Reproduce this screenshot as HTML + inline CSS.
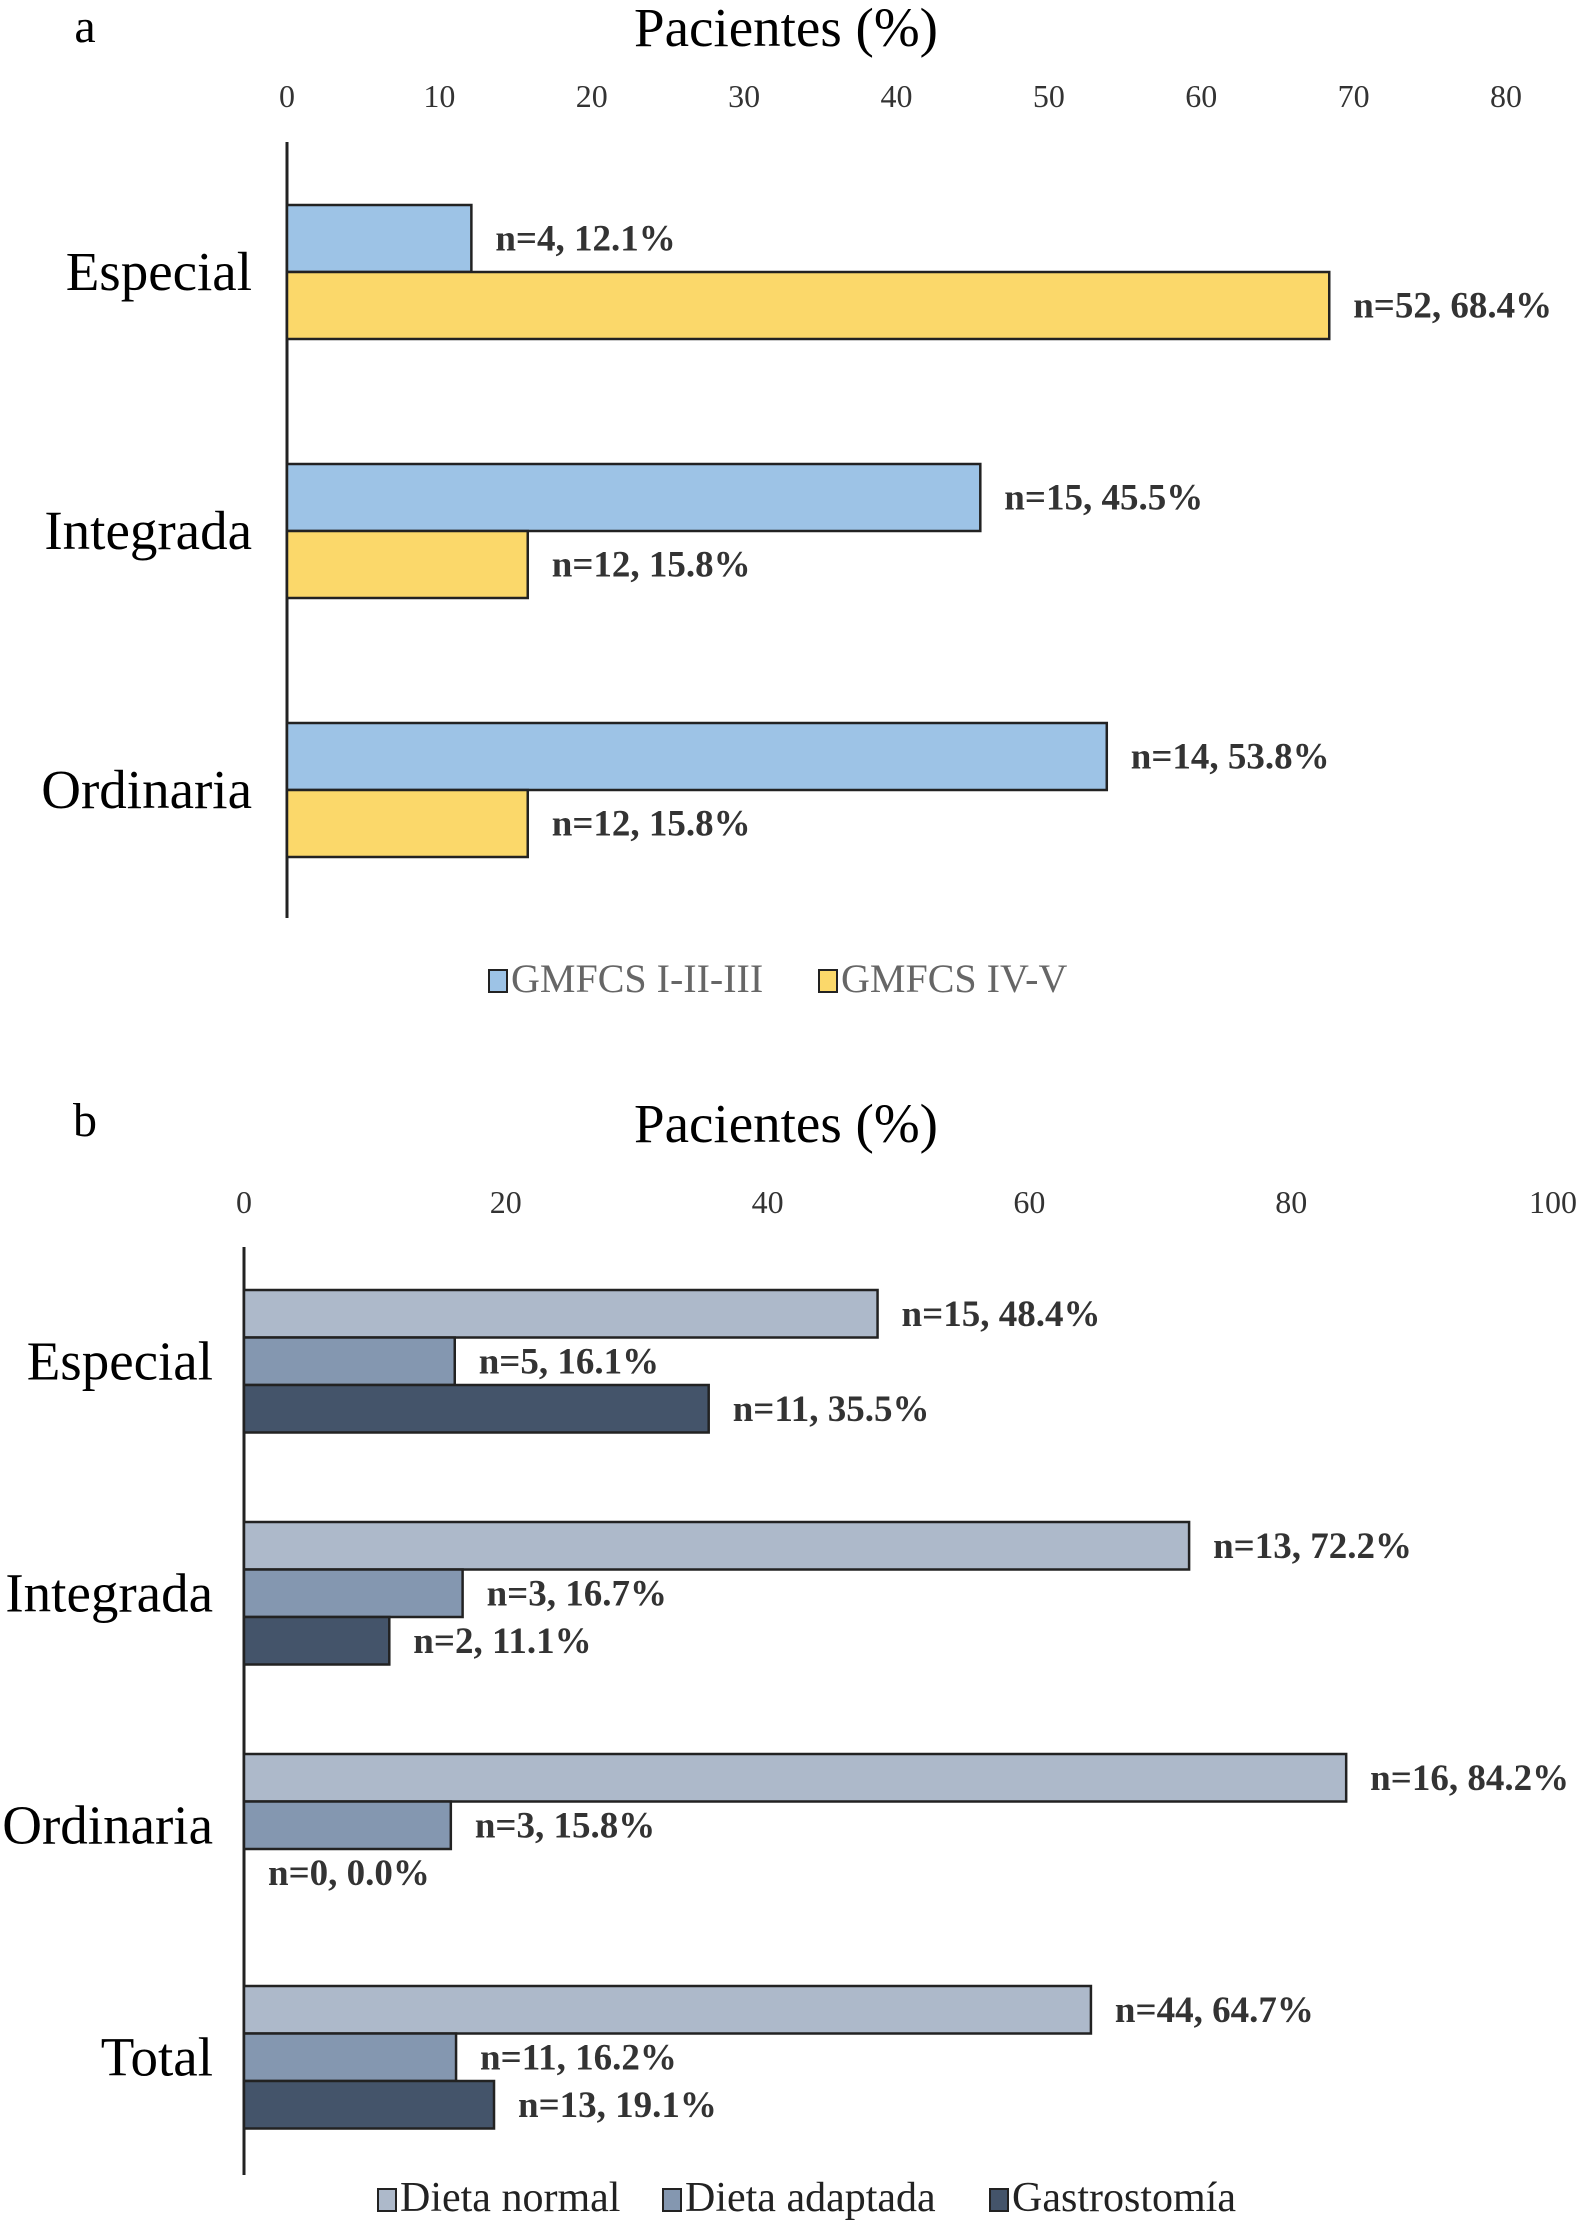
<!DOCTYPE html>
<html><head><meta charset="utf-8"><style>
html,body{margin:0;padding:0;background:#fff;}
svg{display:block;}
text{font-family:"Liberation Serif",serif;}
</style></head><body>
<svg id="chart" width="1587" height="2223" viewBox="0 0 1587 2223" xmlns="http://www.w3.org/2000/svg">
<text x="85" y="42" font-size="48" text-anchor="middle">a</text>
<text x="786" y="46" font-size="55" text-anchor="middle">Pacientes (%)</text>
<text x="85" y="1136" font-size="48" text-anchor="middle">b</text>
<text x="786" y="1142" font-size="55" text-anchor="middle">Pacientes (%)</text>
<g id="ga"></g>
<g id="gb"></g>
</svg>
<script>
// Panel a data
const aCategories = ["Especial", "Integrada", "Ordinaria"];
const aSeriesNames = ["GMFCS I-II-III", "GMFCS IV-V"];
const aGmfcs123 = [12.1, 45.5, 53.8];
const aGmfcs45 = [68.4, 15.8, 15.8];
const aN123 = [4, 15, 14];
const aN45 = [52, 12, 12];
const aTicks = [0, 10, 20, 30, 40, 50, 60, 70, 80];
// Panel b data
const bCategories = ["Especial", "Integrada", "Ordinaria", "Total"];
const bSeriesNames = ["Dieta normal", "Dieta adaptada", "Gastrostomía"];
const bNormal = [48.4, 72.2, 84.2, 64.7];
const bAdaptada = [16.1, 16.7, 15.8, 16.2];
const bGastro = [35.5, 11.1, 0.0, 19.1];
const bNNormal = [15, 13, 16, 44];
const bNAdaptada = [5, 3, 3, 11];
const bNGastro = [11, 2, 0, 13];
const bTicks = [0, 20, 40, 60, 80, 100];

const NS = "http://www.w3.org/2000/svg";
function mk(parent, tag, attrs, txt) {
  const e = document.createElementNS(NS, tag);
  for (const k in attrs) e.setAttribute(k, attrs[k]);
  if (txt !== undefined) e.textContent = txt;
  parent.appendChild(e);
  return e;
}
function fmt(v){return v.toFixed(1);}

function drawPanel(g, cfg) {
  const x = v => cfg.x0 + (v - cfg.min) / (cfg.max - cfg.min) * (cfg.x1 - cfg.x0);
  cfg.ticks.forEach(t => {
    const e = mk(g, "text", {x: x(t), y: cfg.tickY, "font-size": 32, "text-anchor": "middle", fill: "#333"}, String(t));
    
    
  });
  const ax = mk(g, "line", {x1: cfg.x0, x2: cfg.x0, y1: cfg.axisTop, y2: cfg.axisBottom, stroke: "#222", "stroke-width": 3});
  
  
  cfg.categories.forEach((c, i) => {
    const top = cfg.firstTop + i * cfg.groupStep;
    const ns = cfg.series.length;
    const lab = mk(g, "text", {x: cfg.labelX, y: top + ns * cfg.barH / 2 + 18, "font-size": 55, "text-anchor": "end"}, c);
    
    
    cfg.series.forEach((s, j) => {
      const v = s.values[i];
      const y = top + j * cfg.barH;
      const r = mk(g, "rect", {x: x(0), y: y, width: Math.max(0, x(v) - x(0)), height: cfg.barH, fill: s.color, stroke: "#222", "stroke-width": 2.5});
      
      
      const t = mk(g, "text", {x: x(v) + 24, y: y + cfg.barH / 2 + 12, "font-size": 37, "font-weight": "bold", fill: "#333"}, "n=" + s.n[i] + ", " + fmt(v) + "%");
      
      
    });
  });
  cfg.series.forEach((s, j) => {
    const lx = cfg.legendX[j];
    const sw = mk(g, "rect", {x: lx, y: cfg.legendY - 22, width: 18, height: 22, fill: s.color, stroke: "#222", "stroke-width": 2});
    
    
    const lt = mk(g, "text", {x: lx + 22, y: cfg.legendY, "font-size": cfg.legendFont, fill: cfg.legendColor}, s.name);
    
    
  });
}

drawPanel(document.getElementById("ga"), {
  x0: 287, x1: 1506, min: 0, max: 80, ticks: aTicks, tickY: 107,
  axisTop: 142, axisBottom: 918, categories: aCategories,
  firstTop: 205, groupStep: 259, barH: 67, labelX: 252,
  series: [
    {name: aSeriesNames[0], values: aGmfcs123, n: aN123, color: "#9dc3e6"},
    {name: aSeriesNames[1], values: aGmfcs45, n: aN45, color: "#fbd86a"}
  ],
  legendX: [489, 819], legendY: 992, legendFont: 40, legendColor: "#666"
});
drawPanel(document.getElementById("gb"), {
  x0: 244, x1: 1553, min: 0, max: 100, ticks: bTicks, tickY: 1213,
  axisTop: 1247, axisBottom: 2175, categories: bCategories,
  firstTop: 1290, groupStep: 232, barH: 47.5, labelX: 213,
  series: [
    {name: bSeriesNames[0], values: bNormal, n: bNNormal, color: "#adb9ca"},
    {name: bSeriesNames[1], values: bAdaptada, n: bNAdaptada, color: "#8497b0"},
    {name: bSeriesNames[2], values: bGastro, n: bNGastro, color: "#44546a"}
  ],
  legendX: [378, 663, 990], legendY: 2211, legendFont: 42, legendColor: "#222"
});
</script>
</body></html>
